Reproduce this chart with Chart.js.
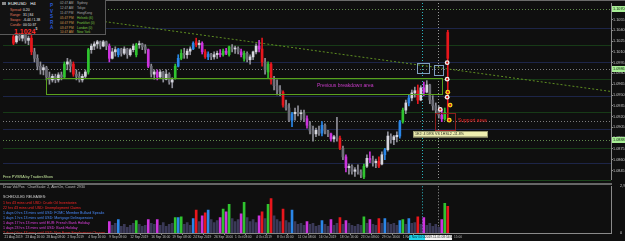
<!DOCTYPE html>
<html>
<head>
<meta charset="utf-8">
<script src="https://cdn.jsdelivr.net/npm/chart.js@4.4.1/dist/chart.umd.min.js"></script>
<style>
  html, body { margin: 0; padding: 0; background: #0f0f0f; }
  #wrap { position: relative; width: 625px; height: 241px; overflow: hidden; font-family: "Liberation Sans", Arial, sans-serif; }
  canvas { position: absolute; left: 0; }
  #main { top: 0; }
  #vol { top: 183px; }
  .t { position: absolute; white-space: nowrap; line-height: 1; }
  #panel { position: absolute; left: 0; top: 0; width: 105px; height: 34px; background: #121212; border-right: 1px solid #5a5a5a; border-bottom: 1px solid #5a5a5a; }
  .lab { left: 10px; font-size: 3.4px; color: #e0785a; }
  .val { left: 23px; font-size: 3.4px; color: #e8e8e8; }
  .pv { left: 50px; font-size: 4.6px; font-weight: bold; color: #2a5ad8; }
  .tm { left: 60px; font-size: 3.2px; }
  .mk { left: 77px; font-size: 3.2px; }
  .ev { left: 3px; font-size: 3.6px; }
</style>
</head>
<body>
<div id="wrap">
  <canvas id="main" width="625" height="183"></canvas>
  <canvas id="vol" width="625" height="58"></canvas>

  <div class="t" style="left:0;top:0;width:625px;height:1px;background:#6a6a6a"></div>
  <div class="t" style="left:0;top:180px;width:611px;height:1px;background:#1c451c"></div>
  <div class="t" style="left:0;top:183px;width:612px;height:2px;background:#666"></div>

  <div id="panel">
    <div class="t" style="left:2px;top:2px;width:4px;height:3px;background:#8a8a8a"></div>
    <div class="t" style="left:8px;top:1.5px;font-size:4.4px;color:#fff">EURUSD&nbsp;&nbsp;&nbsp;H4</div>
    <div class="t lab" style="top:9px">Spread:</div><div class="t val" style="top:9px">0.20</div>
    <div class="t lab" style="top:14px">Range:</div><div class="t val" style="top:14px">31 | 84</div>
    <div class="t lab" style="top:19px">Swaps:</div><div class="t val" style="top:19px">-6.44 / 1.38</div>
    <div class="t lab" style="top:24px">Candle:</div><div class="t val" style="top:24px">00:10:37</div>
    <div class="t" style="left:14px;top:27.5px;font-size:7px;font-weight:bold;color:#ff2a2a">1.1024<span style="font-size:3.4px;color:#ddd;vertical-align:top">5</span></div>
    <div class="t pv" style="top:4px">P</div>
    <div class="t pv" style="top:9.5px">V</div>
    <div class="t pv" style="top:15px">S</div>
    <div class="t pv" style="top:20.5px">R</div>
    <div class="t pv" style="top:26px">A</div>
    <div class="t tm" style="top:2px;color:#a8a8a8">02:47 AM</div><div class="t mk" style="top:2px;color:#a8a8a8">Sydney</div>
    <div class="t tm" style="top:6.5px;color:#a8a8a8">12:47 AM</div><div class="t mk" style="top:6.5px;color:#a8a8a8">Tokyo</div>
    <div class="t tm" style="top:11.5px;color:#a8a8a8">11:47 PM</div><div class="t mk" style="top:11.5px;color:#a8a8a8">HongKong</div>
    <div class="t tm" style="top:16.5px;color:#d49a50">05:47 PM</div><div class="t mk" style="top:16.5px;color:#7ac943">Helsinki (6)</div>
    <div class="t tm" style="top:21.5px;color:#d49a50">04:47 PM</div><div class="t mk" style="top:21.5px;color:#7ac943">Frankfurt (0)</div>
    <div class="t tm" style="top:26.5px;color:#d49a50">03:47 PM</div><div class="t mk" style="top:26.5px;color:#7ac943">London (0)</div>
    <div class="t tm" style="top:30.5px;color:#d49a50">10:47 AM</div><div class="t mk" style="top:30.5px;color:#7ac943">New York</div>
  </div>

  <div class="t" style="left:3px;top:175.5px;font-size:3.8px;color:#c2e49a">Free PVSRA by TradersShow</div>
  <div style="position:absolute;left:0;top:185px;width:330px;height:48px;overflow:hidden">
    <div class="t ev" style="top:1px;color:#bdbdbd">Draw Vol/Pos &nbsp; ChartScale: 2, AlertOn, Count: 2930</div>
    <div class="t ev" style="top:10.5px;color:#d6d6d6">SCHEDULED RELEASES:</div>
    <div class="t ev" style="top:17px;color:#ff2626">1 hrs 43 mins until USD: Crude Oil Inventories</div>
    <div class="t ev" style="top:21.5px;color:#ff2626">22 hrs 43 mins until USD: Unemployment Claims</div>
    <div class="t ev" style="top:26.5px;color:#4a8cff">1 days 0 hrs 13 mins until USD: FOMC Member Bullard Speaks</div>
    <div class="t ev" style="top:31.5px;color:#4a8cff">1 days 1 hrs 13 mins until USD: Mortgage Delinquencies</div>
    <div class="t ev" style="top:36.5px;color:#e040e0">1 days 17 hrs 13 mins until EUR: French Bank Holiday</div>
    <div class="t ev" style="top:41.5px;color:#e040e0">1 days 23 hrs 13 mins until USD: Bank Holiday</div>
    <div class="t ev" style="top:46.5px;color:#ff2626">2 days 0 hrs 43 mins until USD: Non-Farm Employment Change</div>
  </div>

  <div class="t" style="left:409px;top:234.5px;width:16px;height:5px;background:#1ed2e6;color:#05303a;font-size:3.2px;line-height:5px;overflow:hidden">1 Nov 04:00</div>
  <div class="t" style="left:425px;top:234.5px;width:27px;height:5px;background:#f2f2f2;color:#202020;font-size:3.2px;line-height:5px;overflow:hidden">2019.11.01 08:54:58</div>
  <div class="t" style="left:454px;top:235.5px;font-size:3.2px;color:#bbbbbb">15:00</div>
</div>

<script>
// ---- data ----
const slotCount = 203;
const timeLabels = ['21 Aug 2019', '23 Aug 16:00', '28 Aug 08:00', '2 Sep 2019', '4 Sep 16:00',
  '9 Sep 08:00', '12 Sep 2019', '16 Sep 16:00', '19 Sep 08:00', '24 Sep 2019', '26 Sep 16:00',
  '1 Oct 08:00', '4 Oct 2019', '8 Oct 16:00', '11 Oct 08:00', '16 Oct 2019', '18 Oct 16:00',
  '23 Oct 08:00', '29 Oct 16:00', '1 Nov 08:00'];
const timeLabelStep = 7;

const opens = [null, null, null,
  1.1031, 1.1024, 1.1032, 1.1029, 1.1033, 1.1026, 1.1029,
  1.1010, 1.1001, 1.0990, 1.0985, 1.0988, 1.0975, 1.0971, 1.0976, 1.0971, 1.0978,
  1.0975, 1.0993, 1.0996, 1.0993, 1.0979, 1.0976, 1.0971, 1.0976, 1.0982, 1.1013,
  1.1018, 1.1021, 1.1024, 1.1018, 1.1024, 1.1018, 1.1001, 1.1010, 1.1006, 1.1014,
  1.1008, 1.1014, 1.1006, 1.1013, 1.1006, 1.1020, 1.1021, 1.1017, 1.1013, 1.0990,
  1.0979, 1.0982, 1.0975, 1.0982, 1.0972, 1.0979, 1.0968, 1.0974, 1.0990, 1.1001,
  1.1008, 1.1006, 1.1011, 1.1014, 1.1024, 1.1020, 1.1022, 1.1010, 1.1003, 1.1007,
  1.1003, 1.1006, 1.1008, 1.1006, 1.1011, 1.1006, 1.1017, 1.1014, 1.1015, 1.1010,
  1.1001, 1.1008, 1.0999, 1.1003, 1.1010, 1.1018, 1.1014, 1.0996, 1.0982, 1.0993,
  1.0971, 1.0963, 1.0957, 1.0954, 1.0936, 1.0932, 1.0915, 1.0924, 1.0926, 1.0924,
  1.0925, 1.0917, 1.0908, 1.0900, 1.0896, 1.0901, 1.0897, 1.0908, 1.0900, 1.0896,
  1.0889, 1.0892, 1.0890, 1.0876, 1.0864, 1.0849, 1.0851, 1.0844, 1.0846, 1.0843,
  1.0836, 1.0851, 1.0862, 1.0860, 1.0856, 1.0858, 1.0854, 1.0867, 1.0874, 1.0893,
  1.0888, 1.0892, 1.0893, 1.0913, 1.0929, 1.0939, 1.0946, 1.0953, 1.0956, 1.0943,
  1.0960, 1.0954, 1.0964, 1.0943, 1.0935, 1.0929, 1.0922, 1.0917, 1.1001];
const highs = [null, null, null,
  1.1033, 1.1036, 1.1038, 1.1036, 1.1035, 1.1032, 1.1036,
  1.1015, 1.1006, 1.0996, 1.0992, 1.0990, 1.0982, 1.0979, 1.0979, 1.0981, 1.0982,
  1.0996, 1.1001, 1.0999, 1.0996, 1.0985, 1.0982, 1.0979, 1.0985, 1.1015, 1.1021,
  1.1024, 1.1026, 1.1025, 1.1026, 1.1025, 1.1021, 1.1015, 1.1017, 1.1015, 1.1015,
  1.1017, 1.1015, 1.1015, 1.1021, 1.1022, 1.1025, 1.1022, 1.1020, 1.1014, 1.0993,
  1.0985, 1.0985, 1.0985, 1.0983, 1.0985, 1.0981, 1.0974, 1.0993, 1.1006, 1.1013,
  1.1015, 1.1014, 1.1017, 1.1024, 1.1029, 1.1026, 1.1024, 1.1013, 1.1010, 1.1008,
  1.1010, 1.1011, 1.1013, 1.1014, 1.1015, 1.1018, 1.1020, 1.1018, 1.1017, 1.1014,
  1.1011, 1.1010, 1.1006, 1.1011, 1.1021, 1.1026, 1.1029, 1.1001, 1.0996, 1.0995,
  1.0976, 1.0971, 1.0963, 1.0956, 1.0943, 1.0938, 1.0926, 1.0932, 1.0935, 1.0929,
  1.0929, 1.0921, 1.0913, 1.0907, 1.0904, 1.0907, 1.0913, 1.0910, 1.0901, 1.0897,
  1.0894, 1.0919, 1.0893, 1.0879, 1.0867, 1.0854, 1.0853, 1.0849, 1.0853, 1.0846,
  1.0854, 1.0867, 1.0871, 1.0865, 1.0861, 1.0864, 1.0871, 1.0876, 1.0899, 1.0896,
  1.0894, 1.0899, 1.0915, 1.0932, 1.0943, 1.0950, 1.0957, 1.0961, 1.0964, 1.0963,
  1.0968, 1.0970, 1.0965, 1.0949, 1.0939, 1.0935, 1.0929, 1.0932, 1.1040];
const lows = [null, null, null,
  1.1020, 1.1022, 1.1026, 1.1025, 1.1022, 1.1020, 1.1006,
  1.0996, 1.0985, 1.0979, 1.0978, 1.0971, 1.0965, 1.0968, 1.0967, 1.0968, 1.0971,
  1.0974, 1.0985, 1.0982, 1.0976, 1.0971, 1.0968, 1.0968, 1.0974, 1.0979, 1.1008,
  1.1013, 1.1015, 1.1014, 1.1017, 1.1013, 1.0996, 1.1000, 1.1004, 1.1003, 1.1004,
  1.1006, 1.1001, 1.1004, 1.1010, 1.1003, 1.1015, 1.1013, 1.1008, 1.0988, 1.0975,
  1.0972, 1.0971, 1.0974, 1.0968, 1.0971, 1.0965, 1.0960, 1.0972, 1.0989, 1.0999,
  1.1001, 1.1001, 1.1006, 1.1013, 1.1017, 1.1015, 1.1007, 1.1001, 1.0999, 1.0999,
  1.1000, 1.1001, 1.1003, 1.1004, 1.1006, 1.1004, 1.1010, 1.1008, 1.1007, 1.1003,
  1.0997, 1.0996, 1.0993, 1.0999, 1.1007, 1.1010, 1.0990, 1.0979, 1.0974, 1.0965,
  1.0957, 1.0950, 1.0949, 1.0933, 1.0929, 1.0913, 1.0906, 1.0915, 1.0921, 1.0915,
  1.0913, 1.0904, 1.0896, 1.0886, 1.0892, 1.0894, 1.0893, 1.0896, 1.0892, 1.0886,
  1.0885, 1.0886, 1.0874, 1.0860, 1.0843, 1.0840, 1.0840, 1.0837, 1.0840, 1.0835,
  1.0833, 1.0849, 1.0856, 1.0851, 1.0849, 1.0849, 1.0853, 1.0860, 1.0872, 1.0883,
  1.0881, 1.0885, 1.0890, 1.0911, 1.0924, 1.0935, 1.0942, 1.0947, 1.0938, 1.0942,
  1.0949, 1.0953, 1.0938, 1.0929, 1.0924, 1.0918, 1.0913, 1.0915, 1.0915];
const closes = [null, null, null,
  1.1022, 1.1032, 1.1029, 1.1033, 1.1026, 1.1029, 1.1010,
  1.1001, 1.0990, 1.0985, 1.0988, 1.0975, 1.0971, 1.0976, 1.0971, 1.0978, 1.0975,
  1.0993, 1.0996, 1.0990, 1.0979, 1.0976, 1.0971, 1.0976, 1.0982, 1.1013, 1.1018,
  1.1021, 1.1024, 1.1018, 1.1024, 1.1018, 1.1001, 1.1010, 1.1013, 1.1014, 1.1008,
  1.1014, 1.1006, 1.1013, 1.1018, 1.1020, 1.1021, 1.1017, 1.1013, 1.0990, 1.0979,
  1.0982, 1.0975, 1.0982, 1.0972, 1.0979, 1.0968, 1.0971, 1.0990, 1.1001, 1.1008,
  1.1006, 1.1011, 1.1014, 1.1022, 1.1020, 1.1022, 1.1010, 1.1003, 1.1007, 1.1003,
  1.1006, 1.1008, 1.1006, 1.1011, 1.1008, 1.1017, 1.1014, 1.1015, 1.1010, 1.1006,
  1.1008, 1.0999, 1.1003, 1.1010, 1.1018, 1.1014, 1.0996, 1.0985, 1.0993, 1.0971,
  1.0963, 1.0957, 1.0954, 1.0936, 1.0932, 1.0915, 1.0924, 1.0926, 1.0924, 1.0925,
  1.0917, 1.0908, 1.0900, 1.0896, 1.0901, 1.0897, 1.0908, 1.0900, 1.0896, 1.0889,
  1.0892, 1.0890, 1.0876, 1.0864, 1.0849, 1.0851, 1.0844, 1.0846, 1.0843, 1.0839,
  1.0851, 1.0862, 1.0860, 1.0856, 1.0858, 1.0851, 1.0867, 1.0874, 1.0893, 1.0888,
  1.0892, 1.0894, 1.0913, 1.0929, 1.0939, 1.0946, 1.0953, 1.0956, 1.0943, 1.0960,
  1.0954, 1.0964, 1.0943, 1.0935, 1.0929, 1.0922, 1.0917, 1.0926, 1.1037];

// PVSRA candle class: g climax bull, r climax bear, b rising bull, m rising bear, . normal
const pvsraCodes = ('...r.....r' + '..........' + 'g..r....g.' + '.....m..b.' + '....g...m.' +
  '.m.....gbg' + '...br.mrb.' + '..mgmg...m' + 'g....mr.gr' + '...r..b...' +
  '.m....b..m' + '..r.m.....' + 'g.m..r.b..' + '..bg.b..r.' + 'm.....mgr').split('');

const volumes = [null, null, null, null, null, null, null, null, null, null,
  null, null, null, null, null, null, null, null, null, null,
  null, null, null, null, null, null, null, null, null, null,
  null, null, null, null, null, 720, 480, 600, 840, 420,
  540, 360, 480, 600, 780, 540, 420, 480, 840, 600,
  540, 840, 480, 660, 420, 540, 600, 960, 960, 1020,
  540, 660, 480, 900, 1440, 720, 1080, 1260, 1440, 840,
  660, 780, 960, 1500, 1320, 1800, 900, 720, 840, 1200,
  1920, 960, 720, 840, 660, 1080, 1320, 900, 1800, 2160,
  1080, 840, 720, 1500, 780, 660, 1440, 720, 540, 600,
  480, 720, 540, 600, 420, 480, 780, 540, 420, 840,
  480, 600, 960, 540, 780, 600, 480, 420, 540, 480,
  1020, 600, 840, 540, 480, 900, 600, 900, 660, 540,
  600, 480, 780, 840, 540, 900, 600, 660, 1020, 540,
  960, 480, 600, 420, 540, 360, 840, 1860, 1680];
const volumeMax = 2930;

const priceMin = 1.08333;
const priceMax = 1.10779;
const priceTicks = [1.0845, 1.0860, 1.0875, 1.0890, 1.0905, 1.0920, 1.0935, 1.0950, 1.0965,
  1.0980, 1.0995, 1.1010, 1.1025, 1.1040, 1.1055, 1.1070];

const levelPrices = [1.1070, 1.1043, 1.1020, 1.0996, 1.0986, 1.0972, 1.0948, 1.0926, 1.0914,
  1.0903, 1.0888, 1.0877, 1.0856];
const levelKinds = ['dotG', 'blue', 'green', 'blue', 'dotW', 'green', 'blue', 'green', 'dotW',
  'blue', 'dotG', 'green', 'blue'];
const tagPrices = [1.1070, 1.0986, 1.0888];

const trendSlots = [33.5, 202.4];
const trendPrices = [1.1052, 1.0955];

const breakdownSlots = [14, 146];
const breakdownPrices = [1.0974, 1.0951];
const breakdownText = 'Previous breakdown area';
const breakdownTextAt = [104.3, 1.0963];

const supportSlots = [143.7, 150.4];
const supportPrices = [1.0925, 1.0901];
const supportText = 'Support area';
const supportTextAt = [151.4, 1.0914];

const squareSlots = [[137.7, 141.7], [143.4, 146.4]];
const squarePrices = [[1.0995, 1.0981], [1.0992, 1.0978]];

const infoBoxSlots = [136.4, 161.1];
const infoBoxPrices = [1.0900, 1.0892];
const infoBoxText = '1E2: 4 DRS VS 1HSL2 -11.8%';

const markerSlots = [147.8, 147.8, 148, 147.8, 148.8, 145.5, 148.5];
const markerPrices = [1.0995, 1.0972, 1.0954, 1.0947, 1.0936, 1.0930, 1.0915];
const markerKinds = ['w', 'w', 'y', 'w', 'y', 'w', 'y'];

const vLineSlots = [139.4, 144.7];
const vLineColors = ['#2bb5c0', '#9a9a9a'];

// ---- helpers ----
const slotLabels = [];
for (let i = 0; i < slotCount; i++) {
  const k = i / timeLabelStep;
  slotLabels.push(Number.isInteger(k) && k < timeLabels.length ? timeLabels[k] : '');
}

const palette = { g: '#2fc42f', r: '#e8161c', b: '#2a86e8', m: '#cc33dd' };
function bodyColor(i) {
  const c = palette[pvsraCodes[i]];
  if (c) return c;
  return closes[i] >= opens[i] ? '#d6d6de' : '#6e6e78';
}
function wickColor(i) {
  return palette[pvsraCodes[i]] || '#90909a';
}
function volColor(i) {
  return palette[pvsraCodes[i]] || '#3a3957';
}

const levelStyle = {
  blue: { color: '#1d2548', dash: [] },
  green: { color: '#173a17', dash: [] },
  dotW: { color: '#7c7c7c', dash: [1, 2] },
  dotG: { color: '#5f8a4c', dash: [1, 2] }
};

const FONT = '"Liberation Sans", Arial, sans-serif';
Chart.defaults.font.family = FONT;

function drawVLines(chart) {
  const { ctx, chartArea: a, scales: { x } } = chart;
  ctx.save();
  ctx.lineWidth = 1;
  ctx.setLineDash([1, 2]);
  vLineSlots.forEach((s, i) => {
    const px = Math.round(x.getPixelForValue(s)) + 0.5;
    ctx.strokeStyle = vLineColors[i];
    ctx.beginPath();
    ctx.moveTo(px, a.top);
    ctx.lineTo(px, a.bottom);
    ctx.stroke();
  });
  ctx.restore();
}

const mainOverlay = {
  id: 'mainOverlay',
  beforeDatasetsDraw(chart) {
    const { ctx, chartArea: a, scales: { x, y } } = chart;
    ctx.save();
    ctx.beginPath();
    ctx.rect(a.left, a.top, a.right - a.left, a.bottom - a.top);
    ctx.clip();
    ctx.lineWidth = 1;
    levelPrices.forEach((p, i) => {
      const st = levelStyle[levelKinds[i]];
      const py = Math.round(y.getPixelForValue(p)) + 0.5;
      ctx.strokeStyle = st.color;
      ctx.setLineDash(st.dash);
      ctx.beginPath();
      ctx.moveTo(a.left, py);
      ctx.lineTo(a.right, py);
      ctx.stroke();
    });
    // trend line
    ctx.strokeStyle = '#5f8f22';
    ctx.setLineDash([2, 2]);
    ctx.beginPath();
    ctx.moveTo(x.getPixelForValue(trendSlots[0]), y.getPixelForValue(trendPrices[0]));
    ctx.lineTo(x.getPixelForValue(trendSlots[1]), y.getPixelForValue(trendPrices[1]));
    ctx.stroke();
    ctx.restore();
    drawVLines(chart);
  },
  afterDatasetsDraw(chart) {
    const { ctx, scales: { x, y } } = chart;
    const box = (slots, prices, color) => {
      const x0 = Math.round(x.getPixelForValue(slots[0])) + 0.5;
      const x1 = Math.round(x.getPixelForValue(slots[1])) + 0.5;
      const y0 = Math.round(y.getPixelForValue(prices[0])) + 0.5;
      const y1 = Math.round(y.getPixelForValue(prices[1])) + 0.5;
      ctx.strokeStyle = color;
      ctx.strokeRect(x0, y0, x1 - x0, y1 - y0);
    };
    ctx.save();
    ctx.lineWidth = 1;
    box(breakdownSlots, breakdownPrices, '#5aa01e');
    box(supportSlots, supportPrices, '#8b1c1c');
    squareSlots.forEach((s, i) => box(s, squarePrices[i], '#7f9fbf'));

    ctx.textBaseline = 'middle';
    ctx.textAlign = 'left';
    ctx.font = '5px ' + FONT;
    ctx.fillStyle = '#c83cc8';
    ctx.fillText(breakdownText, x.getPixelForValue(breakdownTextAt[0]), y.getPixelForValue(breakdownTextAt[1]));
    ctx.fillStyle = '#e82020';
    ctx.fillText(supportText, x.getPixelForValue(supportTextAt[0]), y.getPixelForValue(supportTextAt[1]));

    // info label
    const bx0 = x.getPixelForValue(infoBoxSlots[0]);
    const bx1 = x.getPixelForValue(infoBoxSlots[1]);
    const by0 = y.getPixelForValue(infoBoxPrices[0]);
    const by1 = y.getPixelForValue(infoBoxPrices[1]);
    ctx.fillStyle = '#eeeeb0';
    ctx.fillRect(bx0, by0, bx1 - bx0, by1 - by0);
    ctx.strokeStyle = '#9a9a70';
    ctx.strokeRect(bx0 + 0.5, by0 + 0.5, bx1 - bx0, by1 - by0);
    ctx.fillStyle = '#2a2a20';
    ctx.font = '3.6px ' + FONT;
    ctx.fillText(infoBoxText, bx0 + 2, (by0 + by1) / 2 + 0.3);

    // pivot markers
    markerSlots.forEach((s, i) => {
      const px = x.getPixelForValue(s);
      const py = y.getPixelForValue(markerPrices[i]);
      ctx.beginPath();
      ctx.arc(px, py, 2.4, 0, Math.PI * 2);
      ctx.fillStyle = markerKinds[i] === 'w' ? '#f4f4f4' : '#f2d21a';
      ctx.fill();
      ctx.beginPath();
      ctx.arc(px, py, 1.1, 0, Math.PI * 2);
      ctx.fillStyle = '#d41a1a';
      ctx.fill();
    });
    ctx.restore();
  },
  afterDraw(chart) {
    const { ctx, scales: { y } } = chart;
    ctx.save();
    ctx.font = '3.8px ' + FONT;
    ctx.textBaseline = 'middle';
    ctx.textAlign = 'left';
    tagPrices.forEach(p => {
      const py = Math.round(y.getPixelForValue(p));
      ctx.fillStyle = '#a8ee96';
      ctx.fillRect(612, py - 3, 13, 6);
      ctx.fillStyle = '#0c200c';
      ctx.fillText(p.toFixed(4), 613, py + 0.3);
    });
    ctx.restore();
  }
};

const volOverlay = {
  id: 'volOverlay',
  beforeDatasetsDraw(chart) { drawVLines(chart); }
};

// ---- price chart ----
new Chart(document.getElementById('main'), {
  type: 'bar',
  data: {
    labels: slotLabels,
    datasets: [
      {
        data: lows.map((l, i) => l === null ? null : [l, highs[i]]),
        backgroundColor: ctx => wickColor(ctx.dataIndex),
        barThickness: 1,
        grouped: false,
        order: 2
      },
      {
        data: opens.map((o, i) => o === null ? null : [o, closes[i]]),
        backgroundColor: ctx => bodyColor(ctx.dataIndex),
        barThickness: 2,
        minBarLength: 1,
        grouped: false,
        order: 1
      }
    ]
  },
  options: {
    responsive: false,
    animation: false,
    events: [],
    layout: { padding: { left: 3, top: 3, right: 0, bottom: 4 } },
    plugins: { legend: { display: false }, tooltip: { enabled: false } },
    scales: {
      x: { display: false, offset: true },
      y: {
        position: 'right',
        min: priceMin,
        max: priceMax,
        afterBuildTicks: s => { s.ticks = priceTicks.map(v => ({ value: v })); },
        afterFit: s => { s.width = 14; },
        grid: { display: true, drawOnChartArea: false, drawTicks: true, tickLength: 2, color: '#8a8a8a' },
        border: { display: true, color: '#8a8a8a' },
        ticks: { color: '#c8c8c8', font: { size: 3.8 }, padding: 0, callback: v => v.toFixed(4) }
      }
    }
  },
  plugins: [mainOverlay]
});

// ---- volume chart ----
new Chart(document.getElementById('vol'), {
  type: 'bar',
  data: {
    labels: slotLabels,
    datasets: [{
      data: volumes,
      backgroundColor: ctx => volColor(ctx.dataIndex),
      barThickness: 2
    }]
  },
  options: {
    responsive: false,
    animation: false,
    events: [],
    layout: { padding: { left: 3, top: 1, right: 0, bottom: 0 } },
    plugins: { legend: { display: false }, tooltip: { enabled: false } },
    scales: {
      x: {
        offset: true,
        afterFit: s => { s.height = 8; },
        grid: { display: true, drawOnChartArea: false, drawTicks: true, tickLength: 2, color: '#8a8a8a' },
        border: { display: true, color: '#8a8a8a' },
        ticks: {
          autoSkip: false, maxRotation: 0, minRotation: 0, align: 'start', padding: 0,
          color: '#c4c4c4', font: { size: 3.2 },
          callback: function (v) { const l = this.getLabelForValue(v); return l === '' ? null : l; }
        }
      },
      y: {
        position: 'right',
        min: 0,
        max: volumeMax,
        afterBuildTicks: s => { s.ticks = [{ value: 0 }, { value: volumeMax }]; },
        afterFit: s => { s.width = 14; },
        grid: { display: false },
        border: { display: true, color: '#8a8a8a' },
        ticks: { color: '#c8c8c8', font: { size: 3.8 }, padding: 1 }
      }
    }
  },
  plugins: [volOverlay]
});
</script>
</body>
</html>
